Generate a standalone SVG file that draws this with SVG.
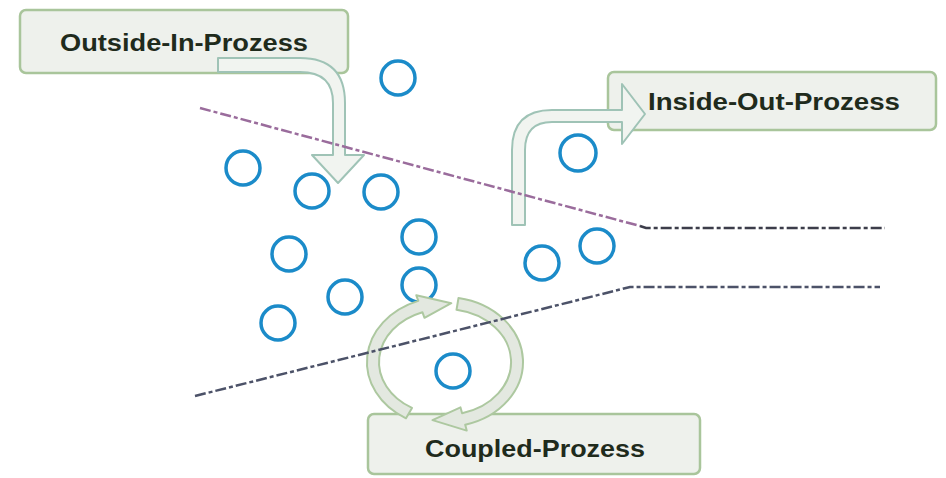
<svg xmlns="http://www.w3.org/2000/svg" width="946" height="478" viewBox="0 0 946 478">
<style>
.box{fill:#eef1ec;stroke:#a9c59b;stroke-width:2.5}
.lbl{font-family:"Liberation Sans",Arial,sans-serif;font-weight:bold;font-size:23px;fill:#1f2b1c;text-anchor:middle}
.arr{fill:#f1f4f0;stroke:#9fc3b6;stroke-width:2;stroke-linejoin:round}
.cyc{fill:#e3e8e0;stroke:#adc8a0;stroke-width:2;stroke-linejoin:round}
.dot{fill:none;stroke:#1b8bc9;stroke-width:3.5}
.fun{fill:none;stroke-width:2.5;stroke-dasharray:11 3 4 3}
</style>
<rect width="946" height="478" fill="#ffffff"/>
<g id="outside-in">
<rect class="box" x="20" y="10" width="328" height="63" rx="6"/>
<text class="lbl" x="184" y="51" textLength="248" lengthAdjust="spacingAndGlyphs">Outside-In-Prozess</text>
</g>
<g id="inside-out">
<rect class="box" x="608" y="72" width="328" height="58" rx="6"/>
<text class="lbl" x="774" y="110" textLength="252" lengthAdjust="spacingAndGlyphs">Inside-Out-Prozess</text>
</g>
<g id="coupled">
<rect class="box" x="368" y="414" width="332" height="60" rx="6"/>
<text class="lbl" x="535" y="457" textLength="220" lengthAdjust="spacingAndGlyphs">Coupled-Prozess</text>
</g>
<g id="ideas">
<circle class="dot" cx="398" cy="78" r="17"/>
<circle class="dot" cx="243" cy="168" r="17"/>
<circle class="dot" cx="312" cy="191" r="17"/>
<circle class="dot" cx="381" cy="192" r="17"/>
<circle class="dot" cx="578" cy="153" r="18"/>
<circle class="dot" cx="289" cy="254" r="17"/>
<circle class="dot" cx="419" cy="237" r="17"/>
<circle class="dot" cx="597" cy="246" r="17"/>
<circle class="dot" cx="542" cy="263" r="17"/>
<circle class="dot" cx="345" cy="297" r="17"/>
<circle class="dot" cx="419" cy="285" r="17"/>
<circle class="dot" cx="278" cy="323" r="17"/>
<circle class="dot" cx="453" cy="371" r="17"/>
</g>
<g id="connectors">
<path class="arr" d="M218 58 L300 58 Q345 58 345 103 L345 155 L364 155 L338 183 L312 155 L333 155 L333 103 Q333 72 300 72 L218 72 Z"/>
<path class="arr" d="M512 225 L512 150 Q512 110 552 110 L622 110 L622 84 L645 114 L622 144 L622 122 L552 122 Q525 122 525 150 L525 225 Z"/>
<path class="cyc" d="M458.5 298 A78 65 0 0 1 465.2 424.8 L466.7 430.6 L432.5 420.1 L460.5 407.4 L462.1 413.2 A66 53 0 0 0 456.5 309.8 Z"/>
<path class="cyc" d="M406 418.3 A78 65 0 0 1 418.3 300.9 L416.3 295.3 L451.3 303.2 L424.5 317.8 L422.4 312.2 A66 53 0 0 0 412 407.9 Z"/>
<polyline class="fun" stroke="#9a6c9c" points="200,108 640,226"/>
<polyline class="fun" stroke="#3c3d4a" points="640,226 646,228 885,228"/>
<polyline class="fun" stroke="#4c5268" points="195,396 630,287 880,287"/>
</g>
</svg>
